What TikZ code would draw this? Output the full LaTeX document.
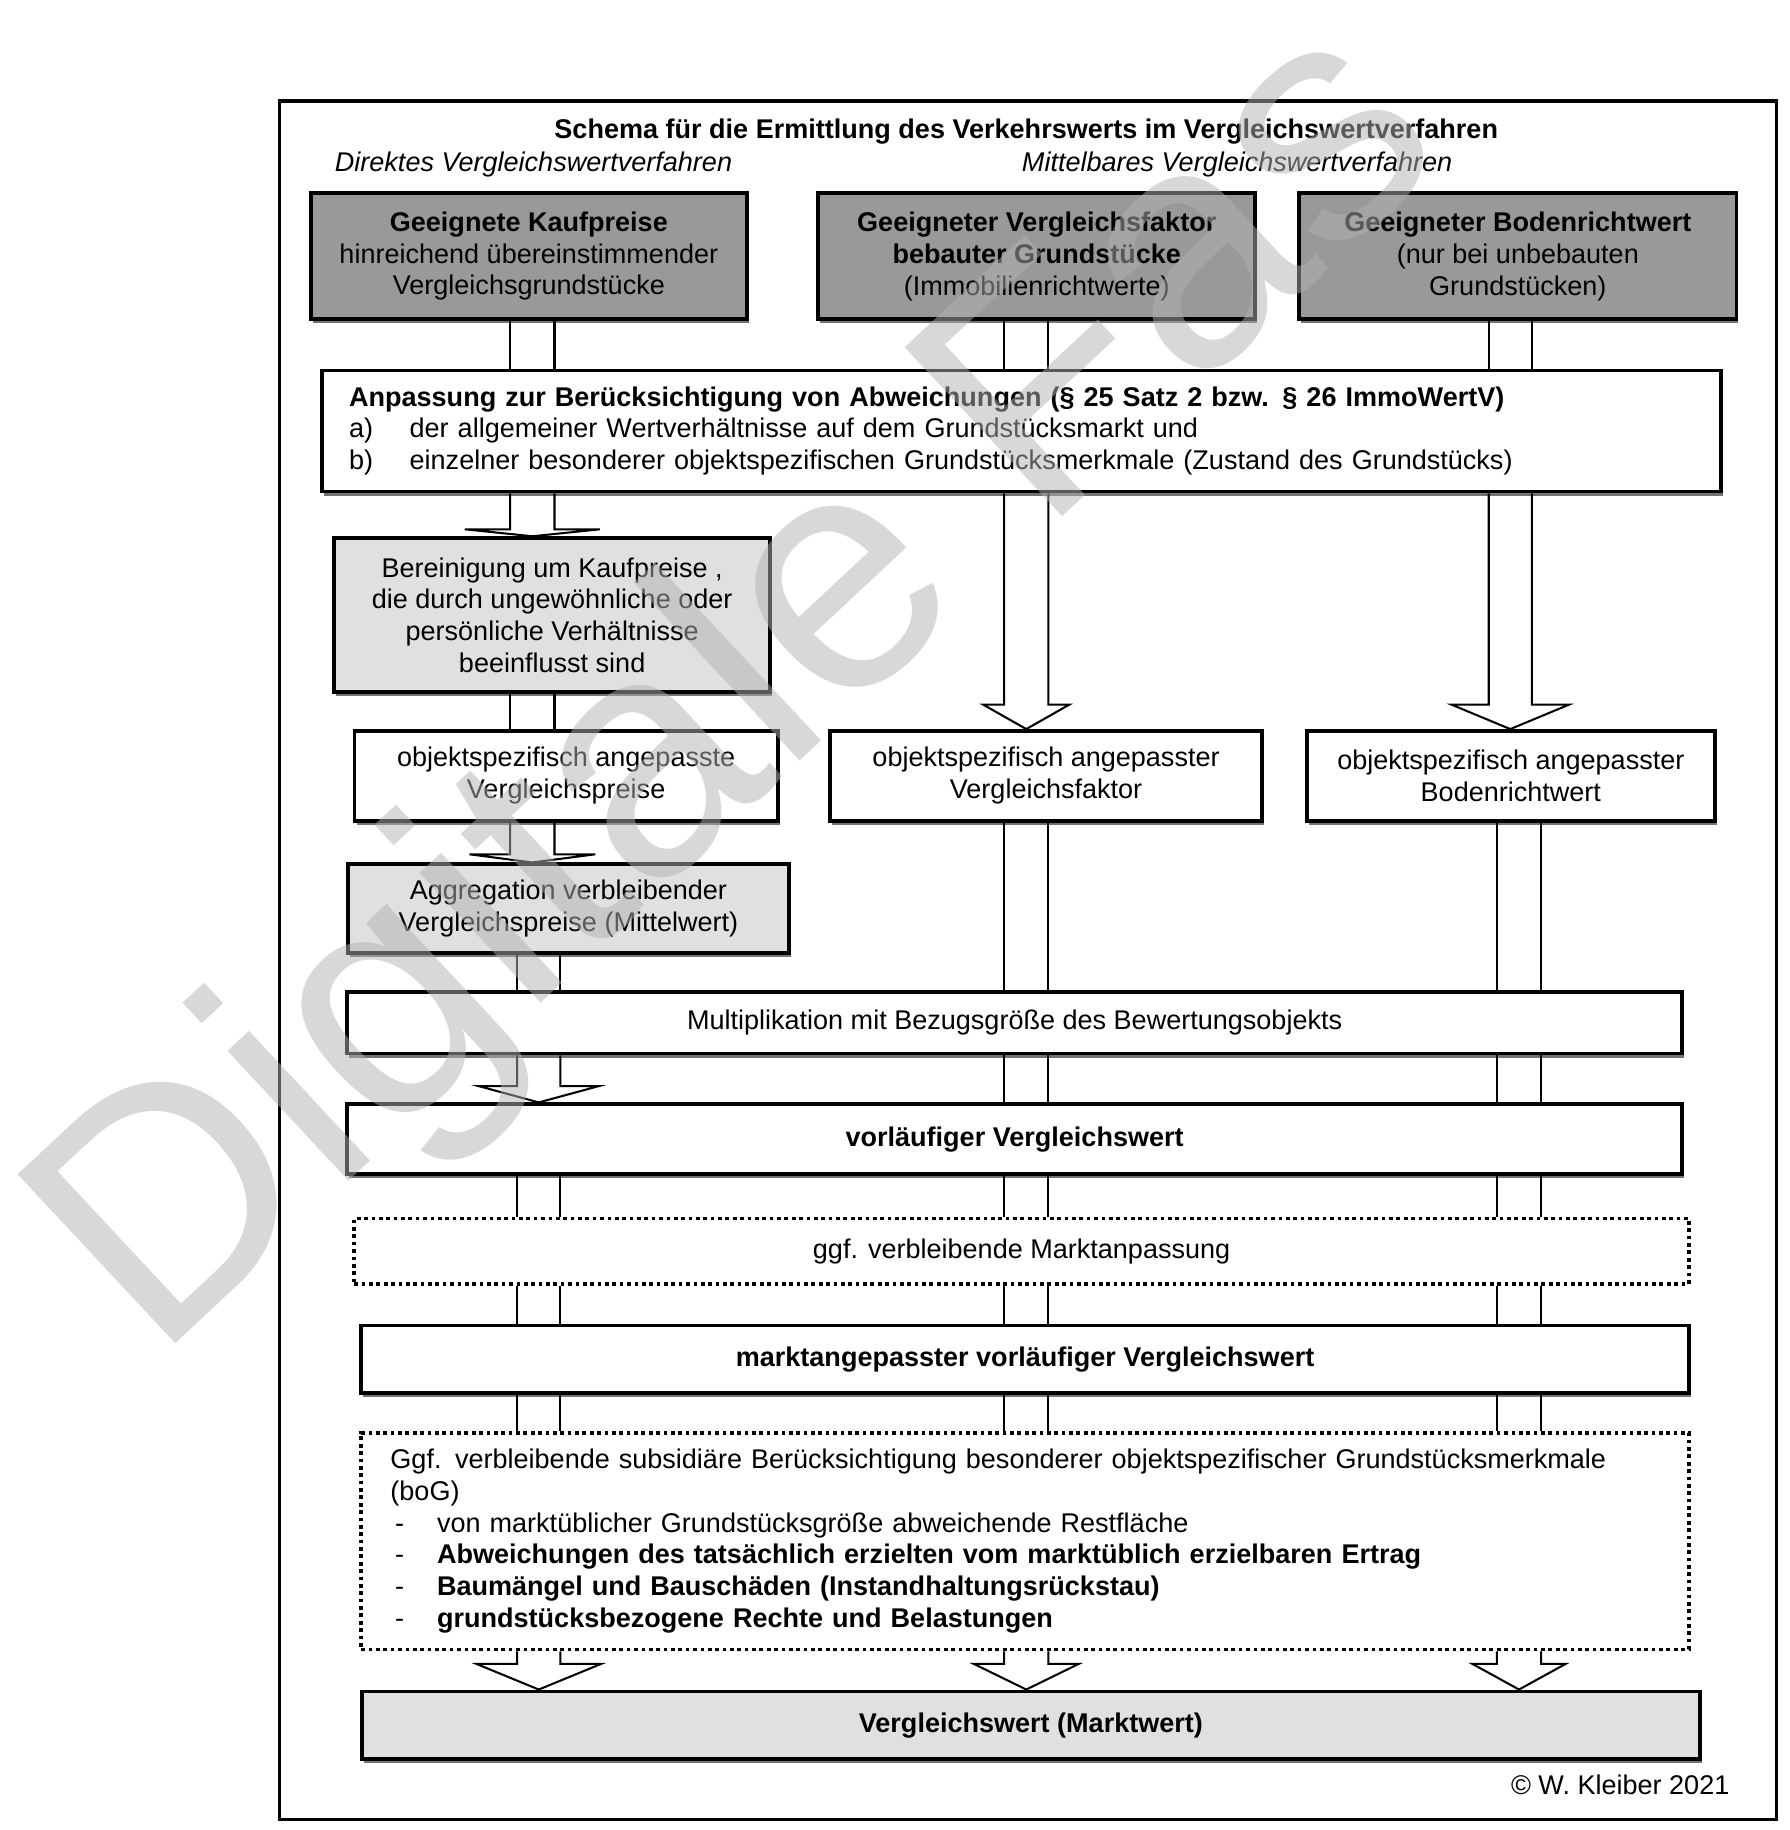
\documentclass[tikz,border=0pt]{standalone}
\usepackage{fontspec}
\setmainfont{Liberation Sans}
\usetikzlibrary{calc,shadows}

\tikzset{
  box/.style={draw, line width=0.9pt, inner sep=0pt, align=center,
    drop shadow={shadow xshift=0.5pt, shadow yshift=-1pt, fill=black!55, opacity=1}},
  darkbox/.style={box, fill=black!40},
  lightbox/.style={box, fill=black!12},
  whitebox/.style={box, fill=white},
  dotbox/.style={draw, line width=0.9pt, dash pattern=on 0.9pt off 0.9pt,
    fill=white, inner sep=0pt},
  shaft/.style={line width=0.5pt},
}

% two parallel shaft lines from one box down to the next
\newcommand{\shafts}[4]{%
  \draw[shaft] (#1.south -| #3) -- (#2.north -| #3) (#1.south -| #4) -- (#2.north -| #4);}
% hollow arrow: source, target, left shaft, right shaft, head height, head overhang
\newcommand{\hollowarrow}[6]{%
  \draw[shaft] (#1.south -| #3) -- ($(#2.north -| #3)+(0,-#5)$) -- ++(-#6,0)
    -- ($(#2.north -| #3)!0.5!(#2.north -| #4)$)
    -- ($(#2.north -| #4)+(#6,-#5)$) -- ++(-#6,0) -- (#1.south -| #4);}

\begin{document}
\begin{tikzpicture}[x=0.01cm, y=-0.01cm, font=\fontsize{6.6}{7.75}\selectfont]
  \useasboundingbox (0,0) rectangle (1536,1571);
  \coordinate (c1l) at (438,0);  \coordinate (c1r) at (476,0);   % column 1, upper part
  \coordinate (c1L) at (444,0);  \coordinate (c1R) at (481,0);   % column 1, lower part
  \coordinate (c2l) at (862,0);  \coordinate (c2r) at (900,0);   % column 2
  \coordinate (c3l) at (1278,0); \coordinate (c3r) at (1315,0);  % column 3, upper part
  \coordinate (c3L) at (1285,0); \coordinate (c3R) at (1323,0);  % column 3, lower part

  \draw[line width=0.9pt] (240,87) rectangle (1525,1562); % outer frame

  \node (title) at (881,113) {\textbf{Schema für die Ermittlung des Verkehrswerts im Vergleichswertverfahren}};
  \node[font=\fontsize{6.6}{7.75}\selectfont\itshape] (direkt) at (458,141) {Direktes Vergleichswertverfahren};
  \node[font=\fontsize{6.6}{7.75}\selectfont\itshape] (mittel) at (1062,141) {Mittelbares Vergleichswertverfahren};

  % starting values
  \node[darkbox, minimum width=3.74cm, minimum height=1.08cm] (kauf) at (454,220)
    {\textbf{Geeignete Kaufpreise}\\hinreichend übereinstimmender\\Vergleichsgrundstücke};
  \node[darkbox, minimum width=3.75cm, minimum height=1.08cm] (vfak) at (890,220)
    {\textbf{Geeigneter Vergleichsfaktor}\\\textbf{bebauter Grundstücke}\\(Immobilienrichtwerte)};
  \node[darkbox, minimum width=3.75cm, minimum height=1.08cm] (brw) at (1303,220)
    {\textbf{Geeigneter Bodenrichtwert}\\(nur bei unbebauten\\Grundstücken)};

  \node[whitebox, minimum width=12cm, minimum height=1.04cm, text width=11.54cm, align=left] (anp) at (877,370)
    {\textbf{Anpassung zur Berücksichtigung von Abweichungen (§ 25 Satz 2 bzw. § 26 ImmoWertV)}\\
     \makebox[0.52cm][l]{a)}der allgemeiner Wertverhältnisse auf dem Grundstücksmarkt und\\
     \makebox[0.52cm][l]{b)}einzelner besonderer objektspezifischen Grundstücksmerkmale (Zustand des Grundstücks)};

  \node[lightbox, minimum width=3.74cm, minimum height=1.32cm] (ber) at (474,528)
    {Bereinigung um Kaufpreise ,\\die durch ungewöhnliche oder\\persönliche Verhältnisse\\beeinflusst sind};

  \node[whitebox, minimum width=3.63cm, minimum height=0.77cm] (ospA) at (486,666)
    {objektspezifisch angepasste\\Vergleichspreise};
  \node[whitebox, minimum width=3.71cm, minimum height=0.77cm] (ospB) at (898,666)
    {objektspezifisch angepasster\\Vergleichsfaktor};
  \node[whitebox, minimum width=3.5cm, minimum height=0.77cm] (ospC) at (1297,666)
    {objektspezifisch angepasster\\Bodenrichtwert};

  \node[lightbox, minimum width=3.78cm, minimum height=0.76cm] (agg) at (488,780)
    {Aggregation verbleibender\\Vergleichspreise (Mittelwert)};

  \node[whitebox, minimum width=11.45cm, minimum height=0.53cm] (mult) at (871,878)
    {Multiplikation mit Bezugsgröße des Bewertungsobjekts};
  \node[whitebox, minimum width=11.45cm, minimum height=0.6cm] (vorl) at (871,978)
    {\textbf{vorläufiger Vergleichswert}};
  \node[dotbox, minimum width=11.45cm, minimum height=0.56cm] (ggf) at (877,1074)
    {ggf. verbleibende Marktanpassung};
  \node[whitebox, minimum width=11.39cm, minimum height=0.58cm] (markt) at (880,1167)
    {\textbf{marktangepasster vorläufiger Vergleichswert}};
  \node[dotbox, minimum width=11.39cm, minimum height=1.86cm, text width=10.89cm, align=left] (bog) at (880,1323)
    {Ggf. verbleibende subsidiäre Berücksichtigung besonderer objektspezifischer Grundstücksmerkmale\\
     (boG)\\
     \makebox[0.4cm][l]{\hspace{0.04cm}-}von marktüblicher Grundstücksgröße abweichende Restfläche\\
     \makebox[0.4cm][l]{\hspace{0.04cm}-}\textbf{Abweichungen des tatsächlich erzielten vom marktüblich erzielbaren Ertrag}\\
     \makebox[0.4cm][l]{\hspace{0.04cm}-}\textbf{Baumängel und Bauschäden (Instandhaltungsrückstau)}\\
     \makebox[0.4cm][l]{\hspace{0.04cm}-}\textbf{grundstücksbezogene Rechte und Belastungen}};
  \node[lightbox, minimum width=11.48cm, minimum height=0.58cm] (vw) at (885,1481)
    {\textbf{Vergleichswert (Marktwert)}};

  \node[anchor=east] (copy) at (1497,1532) {© W. Kleiber 2021};

  % column 1: direct comparison
  \shafts{kauf}{anp}{c1l}{c1r}
  \hollowarrow{anp}{ber}{c1l}{c1r}{6}{39}
  \shafts{ber}{ospA}{c1l}{c1r}
  \hollowarrow{ospA}{agg}{c1l}{c1r}{7}{35}
  \shafts{agg}{mult}{c1L}{c1R}
  \hollowarrow{mult}{vorl}{c1L}{c1R}{14}{33}
  \foreach \a/\b in {vorl/ggf, ggf/markt, markt/bog}
    \shafts{\a}{\b}{c1L}{c1R};
  \hollowarrow{bog}{vw}{c1L}{c1R}{22}{35}

  % column 2: comparison factor
  \shafts{vfak}{anp}{c2l}{c2r}
  \hollowarrow{anp}{ospB}{c2l}{c2r}{21}{18}
  \foreach \a/\b in {ospB/mult, mult/vorl, vorl/ggf, ggf/markt, markt/bog}
    \shafts{\a}{\b}{c2l}{c2r};
  \hollowarrow{bog}{vw}{c2l}{c2r}{22}{26}

  % column 3: land value
  \shafts{brw}{anp}{c3l}{c3r}
  \hollowarrow{anp}{ospC}{c3l}{c3r}{21}{32}
  \foreach \a/\b in {ospC/mult, mult/vorl, vorl/ggf, ggf/markt, markt/bog}
    \shafts{\a}{\b}{c3L}{c3R};
  \hollowarrow{bog}{vw}{c3L}{c3R}{22}{21}

  % watermark
  \node[font=\fontsize{82}{90}\selectfont, text=black!30, opacity=0.5, rotate=43,
    anchor=base west, inner sep=0pt] (wmark) at (133,1170) {Digitale Fas};
\end{tikzpicture}
\end{document}
